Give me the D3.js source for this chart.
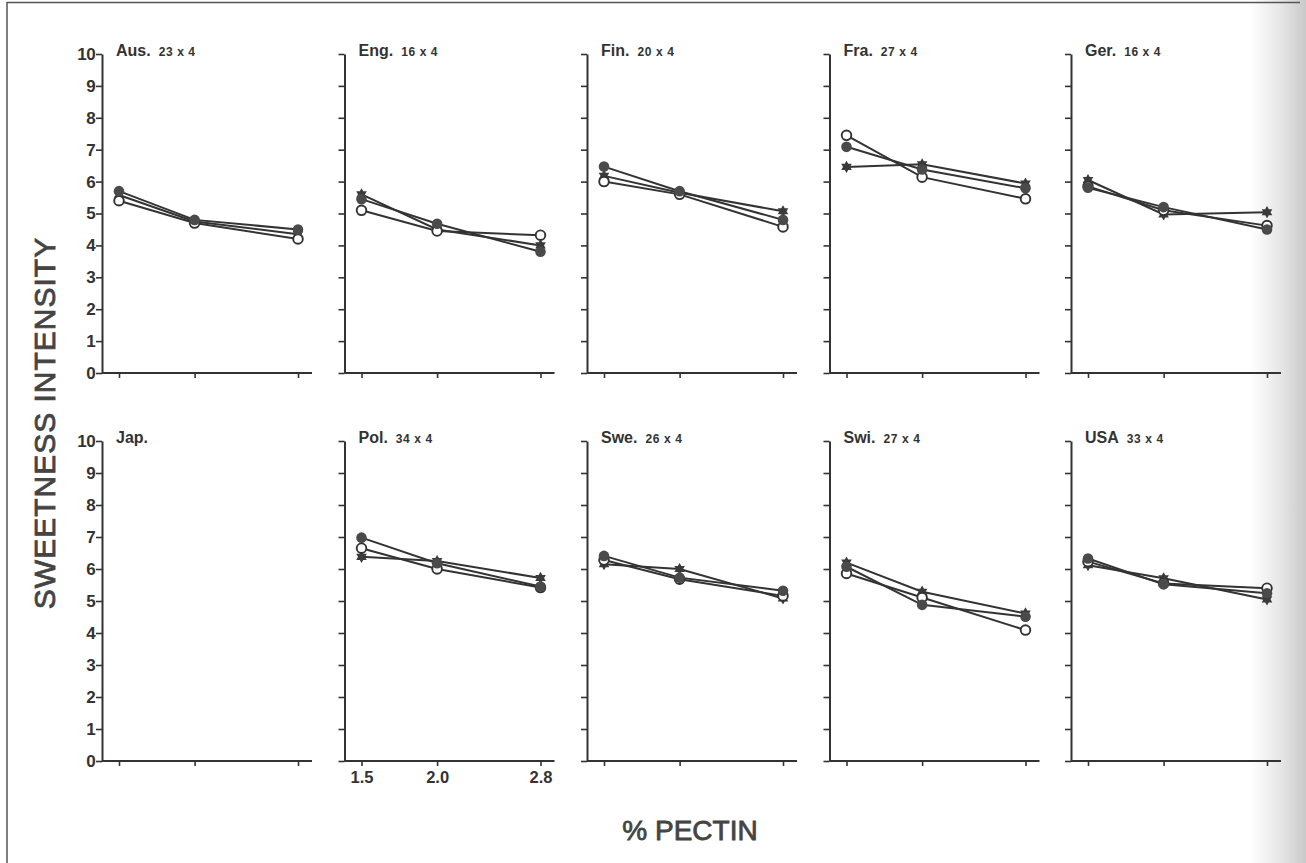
<!DOCTYPE html>
<html>
<head>
<meta charset="utf-8">
<script src="https://cdn.jsdelivr.net/npm/d3@7"></script>
<style>
  html, body { margin: 0; padding: 0; background: #fff; }
  svg { display: block; font-family: "Liberation Sans", Arial, Helvetica, sans-serif; }
</style>
</head>
<body>
<svg id="chart" width="1306" height="863"></svg>
<script>
// Countries (panel order: top row then bottom row) and panel sample sizes
const countries = ["Aus.", "Eng.", "Fin.", "Fra.", "Ger.", "Jap.", "Pol.", "Swe.", "Swi.", "USA"];
const sampleSizes = ["23 x 4", "16 x 4", "20 x 4", "27 x 4", "16 x 4", "", "34 x 4", "26 x 4", "27 x 4", "33 x 4"];

// Pectin concentration levels (%)
const pectinLevels = [1.5, 2.0, 2.8];
const pectinTickLabels = ["1.5", "2.0", "2.8"];
const sweetnessTicks = [0, 1, 2, 3, 4, 5, 6, 7, 8, 9, 10];

// Mean sweetness intensity per country at each pectin level; Japan has no data
const filledSeries = [
  [5.70, 4.80, 4.50], [5.45, 4.68, 3.80], [6.47, 5.70, 4.80], [7.09, 6.38, 5.79], [5.81, 5.20, 4.50],
  null,               [6.98, 6.18, 5.45], [6.41, 5.73, 5.32], [6.07, 4.88, 4.51], [6.33, 5.52, 5.24]
];
const openSeries = [
  [5.40, 4.70, 4.20], [5.10, 4.45, 4.32], [6.00, 5.60, 4.58], [7.45, 6.14, 5.46], [5.85, 5.10, 4.62],
  null,               [6.65, 6.00, 5.42], [6.28, 5.68, 5.16], [5.86, 5.11, 4.09], [6.23, 5.55, 5.40]
];
const starSeries = [
  [5.58, 4.75, 4.35], [5.60, 4.50, 4.00], [6.18, 5.65, 5.07], [6.46, 6.54, 5.94], [6.05, 4.97, 5.04],
  null,               [6.38, 6.25, 5.72], [6.15, 6.00, 5.08], [6.20, 5.29, 4.61], [6.12, 5.71, 5.05]
];

const ink = "#333";
const svg = d3.select("#chart");

// Page frame and shaded right edge
const defs = svg.append("defs");
const grad = defs.append("linearGradient").attr("id", "edge").attr("x1", 0).attr("x2", 1);
grad.append("stop").attr("offset", 0).attr("stop-color", "#fff");
grad.append("stop").attr("offset", 0.55).attr("stop-color", "#e6e6e6");
grad.append("stop").attr("offset", 1).attr("stop-color", "#c9c9c9");
svg.append("rect").attr("x", 1250).attr("y", 0).attr("width", 56).attr("height", 863).attr("fill", "url(#edge)");
svg.append("line").attr("x1", 7).attr("x2", 1300).attr("y1", 2.5).attr("y2", 2.5).attr("stroke", "#555").attr("stroke-width", 1.5);
svg.append("line").attr("x1", 7).attr("x2", 7).attr("y1", 2).attr("y2", 863).attr("stroke", "#555").attr("stroke-width", 1.5);

// Six-pointed star marker
const hexagram = {
  draw(context, size) {
    const r = Math.sqrt(size) * 0.72;
    for (const start of [-90, 90]) {
      for (let k = 0; k < 3; k++) {
        const a = (start + k * 120) * Math.PI / 180;
        const px = r * Math.cos(a), py = r * Math.sin(a);
        if (k === 0) context.moveTo(px, py); else context.lineTo(px, py);
      }
      context.closePath();
    }
  }
};

const colX = [102, 344.5, 587, 829.5, 1071];
const rowTop = [54, 441];
const rowBottom = [373, 761];

countries.forEach((name, i) => {
  const row = Math.floor(i / 5), col = i % 5;
  const x0 = colX[col];
  const x = d3.scaleSqrt().domain([1.5, 2.8]).range([x0 + 17, x0 + 196]);
  const y = d3.scaleLinear().domain([0, 10]).range([rowBottom[row], rowTop[row]]);
  const g = svg.append("g");

  // y axis
  const yAxis = d3.axisLeft(y).tickValues(sweetnessTicks).tickSize(6).tickSizeOuter(0).tickPadding(1);
  if (col !== 0) yAxis.tickFormat("");
  const ya = g.append("g").attr("transform", `translate(${x0},0)`).call(yAxis);
  ya.select(".domain").attr("stroke", ink).attr("stroke-width", 2);
  ya.selectAll(".tick line").attr("stroke", ink).attr("stroke-width", 1.6);
  ya.selectAll(".tick text").attr("fill", ink).attr("font-size", 17).attr("font-weight", "bold")
    .attr("letter-spacing", -0.6);

  // x axis line with the three pectin ticks
  const xAxis = d3.axisBottom(x).tickValues(pectinLevels).tickSize(5).tickSizeOuter(0).tickPadding(5)
    .tickFormat((d, k) => (i === 6 ? pectinTickLabels[k] : ""));
  const xa = g.append("g").attr("transform", `translate(0,${y(0)})`).call(xAxis);
  xa.select(".domain").attr("d", `M${x0},0H${x0 + 210}`).attr("stroke", ink).attr("stroke-width", 2);
  xa.selectAll(".tick line").attr("stroke", ink).attr("stroke-width", 1.6);
  xa.selectAll(".tick text").attr("fill", ink).attr("font-size", 16.5).attr("font-weight", "bold");

  // panel title
  const t = g.append("text").attr("x", x0 + 14).attr("y", y(10) + 2)
    .attr("fill", ink).attr("font-weight", "bold");
  t.append("tspan").attr("font-size", 16).text(name);
  if (sampleSizes[i]) {
    t.append("tspan").attr("dx", 8).attr("font-size", 12).attr("letter-spacing", 0.6).text(sampleSizes[i]);
  }

  if (!filledSeries[i]) return;

  const line = d3.line().x((d, k) => x(pectinLevels[k])).y(d => y(d));
  const series = [
    { values: starSeries[i], kind: "star" },
    { values: openSeries[i], kind: "open" },
    { values: filledSeries[i], kind: "filled" }
  ];
  series.forEach(s => {
    g.append("path").attr("d", line(s.values)).attr("fill", "none")
      .attr("stroke", ink).attr("stroke-width", 2);
  });
  series.forEach(s => {
    const pts = g.append("g").selectAll("g").data(s.values).join("g")
      .attr("transform", (d, k) => `translate(${x(pectinLevels[k])},${y(d)})`);
    if (s.kind === "filled") {
      pts.append("circle").attr("r", 5.3).attr("fill", "#4a4a4a");
    } else if (s.kind === "open") {
      pts.append("circle").attr("r", 4.8).attr("fill", "#fff").attr("stroke", ink).attr("stroke-width", 1.9);
    } else {
      pts.append("path").attr("d", d3.symbol(hexagram, 72)()).attr("fill", "#3a3a3a");
    }
  });
});

// Axis titles
svg.append("text")
  .attr("transform", "translate(55,423) rotate(-90)")
  .attr("text-anchor", "middle").attr("font-size", 30).attr("fill", "#444")
  .attr("stroke", "#444").attr("stroke-width", 0.8).attr("letter-spacing", 1)
  .text("SWEETNESS INTENSITY");

svg.append("text")
  .attr("x", 690).attr("y", 840).attr("text-anchor", "middle")
  .attr("font-size", 28).attr("fill", "#444").attr("stroke", "#444").attr("stroke-width", 0.8)
  .text("% PECTIN");
</script>
</body>
</html>
